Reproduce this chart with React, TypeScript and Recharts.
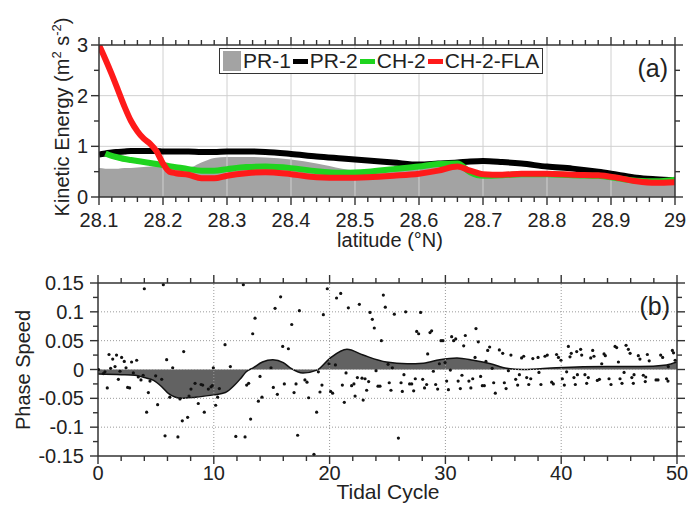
import { ComposedChart, Area, Line, Scatter, XAxis, YAxis, ReferenceLine, Legend } from 'recharts'

const FONT = '"Liberation Sans", Arial, Helvetica, sans-serif'
const AXIS = '#333'
const TXT = '#222'

// ---------- panel (a): kinetic energy along latitude ----------
const latitude = [
  28.1, 28.11, 28.12, 28.13, 28.14, 28.15, 28.16, 28.17, 28.18, 28.19, 28.2, 28.21, 28.22, 28.24, 28.26, 28.28,
  28.3, 28.33, 28.36, 28.4, 28.44, 28.48, 28.52, 28.56, 28.6, 28.63, 28.66, 28.68, 28.7, 28.73, 28.76, 28.8,
  28.84, 28.88, 28.91, 28.94, 28.97, 29,
]
const pr1 = [
  0.57, 0.56, 0.56, 0.56, 0.57, 0.57, 0.58, 0.59, 0.6, 0.61, 0.62, 0.62, 0.62, 0.58, 0.68, 0.77,
  0.79, 0.79, 0.78, 0.74, 0.66, 0.56, 0.5, 0.55, 0.6, 0.63, 0.67, 0.5, 0.42, 0.42, 0.43, 0.43,
  0.42, 0.42, 0.38, 0.31, 0.27, 0.28,
]
const pr2 = [
  0.84, 0.86, 0.88, 0.89, 0.9, 0.91, 0.91, 0.91, 0.91, 0.91, 0.9, 0.9, 0.9, 0.9, 0.89, 0.89,
  0.9, 0.9, 0.89, 0.85, 0.8, 0.76, 0.72, 0.68, 0.64, 0.66, 0.68, 0.7, 0.71, 0.69, 0.66, 0.6,
  0.56, 0.5, 0.44, 0.38, 0.35, 0.33,
]
const ch2 = [
  null, 0.86, 0.81, 0.78, 0.75, 0.73, 0.71, 0.69, 0.67, 0.65, 0.63, 0.61, 0.59, 0.55, 0.52, 0.52,
  0.55, 0.59, 0.6, 0.57, 0.51, 0.48, 0.5, 0.55, 0.6, 0.65, 0.66, 0.49, 0.42, 0.43, 0.45, 0.45,
  0.43, 0.42, 0.37, 0.32, 0.31, 0.34,
]
const ch2fla = [
  3.0, 2.72, 2.42, 2.1, 1.78, 1.5, 1.3, 1.15, 1.05, 0.9, 0.66, 0.5, 0.47, 0.44, 0.37, 0.37,
  0.42, 0.47, 0.49, 0.45, 0.39, 0.38, 0.39, 0.42, 0.46, 0.52, 0.6, 0.52, 0.45, 0.44, 0.46, 0.46,
  0.44, 0.43, 0.38, 0.31, 0.28, 0.29,
]
const seriesNames = ['PR-1', 'PR-2', 'CH-2', 'CH-2-FLA']

const latMajor = [28.1, 28.2, 28.3, 28.4, 28.5, 28.6, 28.7, 28.8, 28.9, 29]
const keTicks = [0, 0.5, 1, 1.5, 2, 2.5, 3]
const keGrid = [1, 2]

// ---------- panel (b): phase speed per tidal cycle ----------
const curveCycle = [
  0, 2, 3.2, 4, 4.8, 5.5, 6.1, 7.2, 8.4, 10, 11, 11.8, 12.3, 12.8, 13.4, 14.2, 15.1, 16, 16.6, 17.7,
  18.9, 20, 21.5, 22.9, 24.9, 26.7, 28.1, 29.5, 31, 32.4, 33.9, 35.3, 36.7, 39.6, 43.9, 46.8, 49.1, 50,
]
const curveSpeed = [
  -0.008, -0.009, -0.01, -0.014, -0.019, -0.03, -0.042, -0.05, -0.048, -0.044, -0.04, -0.027, -0.016, -0.004,
  0.003, 0.013, 0.017, 0.012, 0.003, -0.006, -0.001, 0.019, 0.035, 0.025, 0.013, 0.01, 0.011, 0.017, 0.02,
  0.016, 0.01, 0.002, 0.0, 0.003, 0.005, 0.005, 0.008, 0.013,
]

const dotCycle = [
  0.05, 0.46, 0.6, 0.8, 0.95, 1.09, 1.27, 1.47, 1.6, 1.76, 1.9, 2.04, 2.27, 2.42, 2.56, 2.73, 2.9, 3.05, 3.34, 3.48,
  3.71, 3.9, 4.0, 4.2, 4.35, 4.49, 4.98, 5.15, 5.5, 5.64, 5.79, 5.93, 6.2, 6.45, 6.9, 7.08, 7.28, 7.4, 7.74, 7.86,
  8.03, 8.38, 8.66, 8.9, 9.04, 9.18, 9.53, 9.76, 9.87, 9.96, 10.16, 10.33, 10.48, 10.97, 11.43, 11.9,
  12.55, 12.7, 12.84, 13.01, 13.18, 13.36, 13.56, 13.85, 13.99, 14.16, 14.94, 15.14, 15.29, 15.49, 15.77, 15.95,
  16.09, 16.44, 16.73, 16.93, 17.1, 17.24, 17.39, 17.87, 18.05, 18.19, 18.65, 18.88, 19.03, 19.17, 19.34, 19.46,
  19.8, 19.95, 20.09, 20.26, 20.5, 20.6, 20.96, 21.1, 21.27, 21.42, 21.62, 21.9, 22.1, 22.2, 22.4, 22.57, 22.8,
  22.9, 23.06, 23.2, 23.37, 23.49, 23.69, 23.86, 24.01, 24.18, 24.35, 24.47, 24.64, 24.81, 25.05, 25.15,
  25.3, 25.42, 25.59, 25.94, 26.17, 26.28, 26.42, 26.57, 26.91, 27.09, 27.26, 27.4, 27.52, 27.69, 27.86, 28.04,
  28.2, 28.38, 28.47, 28.67, 28.81, 28.96, 29.16, 29.33, 29.48, 29.62, 29.79, 29.97, 30.11, 30.26, 30.43, 30.54,
  30.71, 30.89, 31.1, 31.29, 31.43, 31.58, 31.72, 32.03, 32.2, 32.36, 32.56, 32.64, 32.84, 33.04, 33.19, 33.36,
  33.5, 33.65, 33.82, 34.04, 34.17, 34.31, 34.66, 34.95, 35.09, 35.24, 35.44, 35.66, 36.07, 36.24, 36.39, 36.58,
  36.76, 37.02, 37.2, 37.37, 37.55,
  38.0, 38.08, 38.25, 38.6, 38.8, 39.18, 39.32, 39.6, 39.76, 39.98, 40.1, 40.27, 40.47, 40.62, 40.76, 40.87,
  41.1, 41.22, 41.34, 41.4, 41.68, 41.77, 42.05, 42.2, 42.34, 42.55, 42.72, 42.83, 43.12, 43.3, 43.5, 43.7,
  43.81, 44.13, 44.3, 44.65, 44.79, 44.94, 45.08, 45.25, 45.43, 45.6, 45.8, 45.95, 46.1, 46.23, 46.29, 46.66,
  46.8, 47.09, 47.26, 47.3, 47.44, 47.6, 48.19, 48.36, 48.59, 48.76, 49.1, 49.22, 49.25, 49.6, 49.7, 49.84,
]
const dotSpeed = [
  0.0, -0.007, -0.004, -0.032, 0.026, 0.002, 0.018, 0.005, 0.025, -0.017, -0.003, 0.021, 0.014, 0.003, -0.031, -0.032, 0.013, -0.006, 0.016, -0.013,
  -0.018, -0.01, 0.14, -0.074, -0.04, -0.02, -0.011, -0.061, -0.017, 0.147, -0.115, 0.017, -0.048, 0.003, -0.117, -0.051, -0.089, 0.031, -0.083, -0.046,
  -0.034, -0.024, -0.059, -0.026, -0.027, -0.074, -0.034, -0.03, -0.028, 0.003, -0.062, -0.048, -0.033, 0.043, 0.005, -0.116,
  0.147, -0.117, -0.027, -0.024, -0.086, 0.062, 0.089, -0.055, -0.012, -0.048, 0.003, -0.031, 0.106, -0.043, 0.126, 0.04,
  -0.025, 0.036, 0.078, -0.04, -0.025, -0.114, 0.102, -0.018, -0.022, -0.049, -0.147, -0.074, -0.004, -0.039, -0.027, 0.095,
  0.14, 0.01, -0.038, -0.041, 0.008, 0.124, 0.132, -0.027, -0.057, -0.006, 0.107, -0.028, -0.025, -0.046, -0.014, 0.113, -0.015,
  -0.053, -0.016, -0.036, -0.021, 0.099, 0.087, 0.072, -0.002, -0.029, -0.029, 0.05, 0.129, 0.108, 0.009, -0.023,
  -0.036, 0.003, 0.096, -0.119, -0.023, -0.038, -0.009, 0.1, -0.025, -0.025, -0.037, -0.016, 0.066, 0.062, 0.099, -0.017,
  -0.032, -0.026, 0.027, 0.064, 0.067, -0.003, -0.026, -0.034, 0.01, 0.05, 0.05, 0.012, -0.02, -0.035, -0.001, 0.057,
  0.05, 0.053, -0.02, -0.033, -0.01, 0.041, 0.059, -0.02, -0.032, -0.016, 0.021, 0.071, 0.048, -0.012, -0.028, -0.028,
  0.014, 0.033, 0.039, 0.002, -0.023, -0.041, 0.034, 0.028, -0.023, -0.033, -0.002, 0.025, -0.017, -0.027, -0.009, 0.02,
  0.023, -0.014, -0.026, -0.016, 0.019,
  0.021, -0.005, -0.026, 0.023, 0.025, -0.022, -0.025, 0.026, 0.021, 0.016, -0.016, -0.027, -0.004, 0.04, 0.022, 0.028,
  -0.014, -0.026, 0.031, -0.009, 0.035, 0.025, -0.009, -0.024, -0.014, 0.02, 0.033, 0.023, -0.019, -0.017, 0.01, 0.027,
  0.024, -0.016, -0.026, 0.04, 0.038, 0.013, -0.016, -0.024, -0.005, 0.042, 0.035, 0.028, -0.014, -0.024, -0.009, 0.024,
  0.018, -0.01, -0.021, -0.013, 0.026, 0.015, -0.018, -0.018, 0.025, 0.021, -0.016, -0.02, 0.005, 0.033, 0.029, 0.016,
]

const cycleMajor = [0, 10, 20, 30, 40, 50]
const cycleTicks = [0, 2, 4, 6, 8, 10, 12, 14, 16, 18, 20, 22, 24, 26, 28, 30, 32, 34, 36, 38, 40, 42, 44, 46, 48, 50]
const speedTicks = [-0.15, -0.125, -0.1, -0.075, -0.05, -0.025, 0, 0.025, 0.05, 0.075, 0.1, 0.125, 0.15]
const speedGrid = [-0.1, -0.05, 0, 0.05, 0.1]

// minor latitude ticks every 0.02 between the labelled ones
const latTicks = latMajor.flatMap((m, i) =>
  i === 0 ? [m] : [1, 2, 3, 4, 5].map((k) => +(latMajor[i - 1] + k * 0.02).toFixed(2)),
)

const keRows = latitude.map((lat, i) => ({ lat, pr1: pr1[i], pr2: pr2[i], ch2: ch2[i], ch2fla: ch2fla[i] }))
const curveRows = curveCycle.map((t, i) => ({ t, v: curveSpeed[i] }))
const dotRows = dotCycle.map((t, i) => ({ t, v: dotSpeed[i] }))

const GRAY = '#a3a3a3'
const COLORS: Record<string, string> = { pr1: GRAY, pr2: '#000000', ch2: '#1fd41f', ch2fla: '#ff1a1a' }

// chart geometry
const W = 689
const A_H = 255
const A_M = { top: 45, right: 14, bottom: 28, left: 59 }
const A_PW = W - A_M.left - 40 - A_M.right
const A_PH = A_H - A_M.top - A_M.bottom - 30
const B_H = 256
const B_M = { top: 28, right: 12, bottom: 25, left: 58 }
const B_PW = W - B_M.left - 40 - B_M.right
const B_PH = B_H - B_M.top - B_M.bottom - 30

const near = (v: number, step: number) => Math.abs(v / step - Math.round(v / step)) < 1e-6
const fmt = (v: number) => String(Number(v.toFixed(3)))

function xTick(isMajor: (v: number) => boolean, plotH: number, labelDy: number) {
  return (props: any) => {
    const { x, y, payload } = props
    const major = isMajor(payload.value)
    const len = major ? 8 : 5
    return (
      <g>
        <line x1={x} y1={y} x2={x} y2={y + len} stroke={AXIS} strokeWidth={1.4} />
        <line x1={x} y1={y - plotH} x2={x} y2={y - plotH - len} stroke={AXIS} strokeWidth={1.4} />
        {major && (
          <text x={x} y={y + labelDy} textAnchor="middle" fontSize={20} fill={TXT} fontFamily={FONT}>
            {fmt(payload.value)}
          </text>
        )}
      </g>
    )
  }
}

function yTick(isMajor: (v: number) => boolean, plotW: number, labelDx: number) {
  return (props: any) => {
    const { x, y, payload } = props
    const major = isMajor(payload.value)
    const len = major ? 8 : 5
    return (
      <g>
        <line x1={x} y1={y} x2={x - len} y2={y} stroke={AXIS} strokeWidth={1.4} />
        <line x1={x + plotW} y1={y} x2={x + plotW + len} y2={y} stroke={AXIS} strokeWidth={1.4} />
        {major && (
          <text x={x - labelDx} y={y + 7} textAnchor="end" fontSize={20} fill={TXT} fontFamily={FONT}>
            {fmt(payload.value)}
          </text>
        )}
      </g>
    )
  }
}

const renderLegend = (props: any) => {
  const items = ([...(props.payload || [])] as any[]).sort(
    (a, b) => seriesNames.indexOf(a.value) - seriesNames.indexOf(b.value),
  )
  return (
    <div
      style={{
        display: 'flex',
        alignItems: 'center',
        border: `1px solid ${AXIS}`,
        background: '#fff',
        padding: '0 3px',
        height: 24,
        fontSize: 21,
        fontFamily: FONT,
        color: TXT,
        whiteSpace: 'nowrap',
      }}
    >
      {items.map((e) => (
        <span key={e.value} style={{ display: 'flex', alignItems: 'center' }}>
          {e.dataKey === 'pr1' ? (
            <span style={{ display: 'inline-block', width: 18, height: 20, background: GRAY, marginRight: 2 }} />
          ) : (
            <span style={{ display: 'inline-block', width: 15, height: 5, background: COLORS[e.dataKey], margin: '0 2px' }} />
          )}
          {e.value}
        </span>
      ))}
    </div>
  )
}

const keTitle = () => (
  <text transform={`translate(69, 117) rotate(-90)`} textAnchor="middle" fontSize={20} fill={TXT} fontFamily={FONT}>
    <tspan>Kinetic Energy (m</tspan>
    <tspan dy={-8} fontSize={13}>2</tspan>
    <tspan dy={8}> s</tspan>
    <tspan dy={-8} fontSize={13}>-2</tspan>
    <tspan dy={8}>)</tspan>
  </text>
)

const speedTitle = () => (
  <text transform={`translate(30, 115) rotate(-90)`} textAnchor="middle" fontSize={20} fill={TXT} fontFamily={FONT}>
    Phase Speed
  </text>
)

const latTitle = () => (
  <text x={390} y={247} textAnchor="middle" fontSize={20} fill={TXT} fontFamily={FONT}>
    latitude (°N)
  </text>
)

const cycleTitle = () => (
  <text x={388} y={244} textAnchor="middle" fontSize={21} fill={TXT} fontFamily={FONT}>
    Tidal Cycle
  </text>
)

const tag = (text: string) => (p: any) => {
  const vb = p.viewBox || {}
  return (
    <text x={vb.x + vb.width - 7} y={vb.y + 32} textAnchor="end" fontSize={25} fill={TXT} fontFamily={FONT}>
      {text}
    </text>
  )
}

export default function App() {
  return (
    <div style={{ position: 'absolute', left: 0, top: 0, width: W, height: 511, background: '#fff', fontFamily: FONT }}>
      <ComposedChart width={W} height={A_H} data={keRows} margin={A_M}>
        <XAxis
          dataKey="lat"
          type="number"
          domain={[28.1, 29]}
          allowDataOverflow
          ticks={latTicks}
          interval={0}
          height={30}
          tickSize={0}
          tickMargin={0}
          tickLine={false}
          axisLine={{ stroke: AXIS, strokeWidth: 1.5 }}
          tick={xTick((v) => near(v, 0.1), A_PH, 30)}
          label={latTitle}
        />
        <YAxis
          type="number"
          domain={[0, 3]}
          allowDataOverflow
          ticks={keTicks}
          interval={0}
          width={40}
          tickSize={0}
          tickMargin={0}
          tickLine={false}
          axisLine={{ stroke: AXIS, strokeWidth: 1.5 }}
          tick={yTick((v) => Number.isInteger(v), A_PW, 11)}
          label={keTitle}
        />
        {latMajor.slice(1, -1).map((v) => (
          <ReferenceLine key={`gx${v}`} x={v} stroke="#d0d0d0" />
        ))}
        {keGrid.map((v) => (
          <ReferenceLine key={`gy${v}`} y={v} stroke="#d0d0d0" />
        ))}
        <Area dataKey="pr1" name={seriesNames[0]} type="monotone" fill={GRAY} fillOpacity={1} stroke="none" isAnimationActive={false} />
        <Line dataKey="pr2" name={seriesNames[1]} type="monotone" stroke={COLORS.pr2} strokeWidth={6} dot={false} activeDot={false} isAnimationActive={false} />
        <Line dataKey="ch2" name={seriesNames[2]} type="monotone" stroke={COLORS.ch2} strokeWidth={6} dot={false} activeDot={false} isAnimationActive={false} />
        <Line dataKey="ch2fla" name={seriesNames[3]} type="monotone" stroke={COLORS.ch2fla} strokeWidth={6} dot={false} activeDot={false} isAnimationActive={false} />
        <ReferenceLine y={3} stroke={AXIS} strokeWidth={1.5} label={tag('(a)')} />
        <ReferenceLine x={29} stroke={AXIS} strokeWidth={1.5} />
        <Legend
          layout="vertical"
          align="center"
          verticalAlign="middle"
          content={renderLegend}
          wrapperStyle={{ left: 219, top: 48, width: 'auto' }}
        />
      </ComposedChart>

      <ComposedChart width={W} height={B_H} margin={B_M}>
        <XAxis
          dataKey="t"
          type="number"
          domain={[0, 50]}
          allowDataOverflow
          ticks={cycleTicks}
          interval={0}
          height={30}
          tickSize={0}
          tickMargin={0}
          tickLine={false}
          axisLine={{ stroke: AXIS, strokeWidth: 1.5 }}
          tick={xTick((v) => near(v, 10), B_PH, 24)}
          label={cycleTitle}
        />
        <YAxis
          dataKey="v"
          type="number"
          domain={[-0.15, 0.15]}
          allowDataOverflow
          ticks={speedTicks}
          interval={0}
          width={40}
          tickSize={0}
          tickMargin={0}
          tickLine={false}
          axisLine={{ stroke: AXIS, strokeWidth: 1.5 }}
          tick={yTick((v) => near(v, 0.05), B_PW, 14)}
          label={speedTitle}
        />
        {cycleMajor.slice(1, -1).map((v) => (
          <ReferenceLine key={`gx${v}`} x={v} stroke="#9a9a9a" strokeDasharray="1 2" />
        ))}
        {speedGrid.map((v) => (
          <ReferenceLine key={`gy${v}`} y={v} stroke="#9a9a9a" strokeDasharray="1 2" />
        ))}
        <Area data={curveRows} dataKey="v" type="monotone" baseValue={0} fill="#626262" fillOpacity={1} stroke="#111" strokeWidth={1.5} isAnimationActive={false} />
        <Scatter
          data={dotRows}
          dataKey="v"
          fill="#111"
          isAnimationActive={false}
          shape={(p: any) => <circle cx={p.cx} cy={p.cy} r={1.6} fill="#111" />}
        />
        <ReferenceLine y={0.15} stroke={AXIS} strokeWidth={1.5} label={tag('(b)')} />
        <ReferenceLine x={50} stroke={AXIS} strokeWidth={1.5} />
      </ComposedChart>
    </div>
  )
}
